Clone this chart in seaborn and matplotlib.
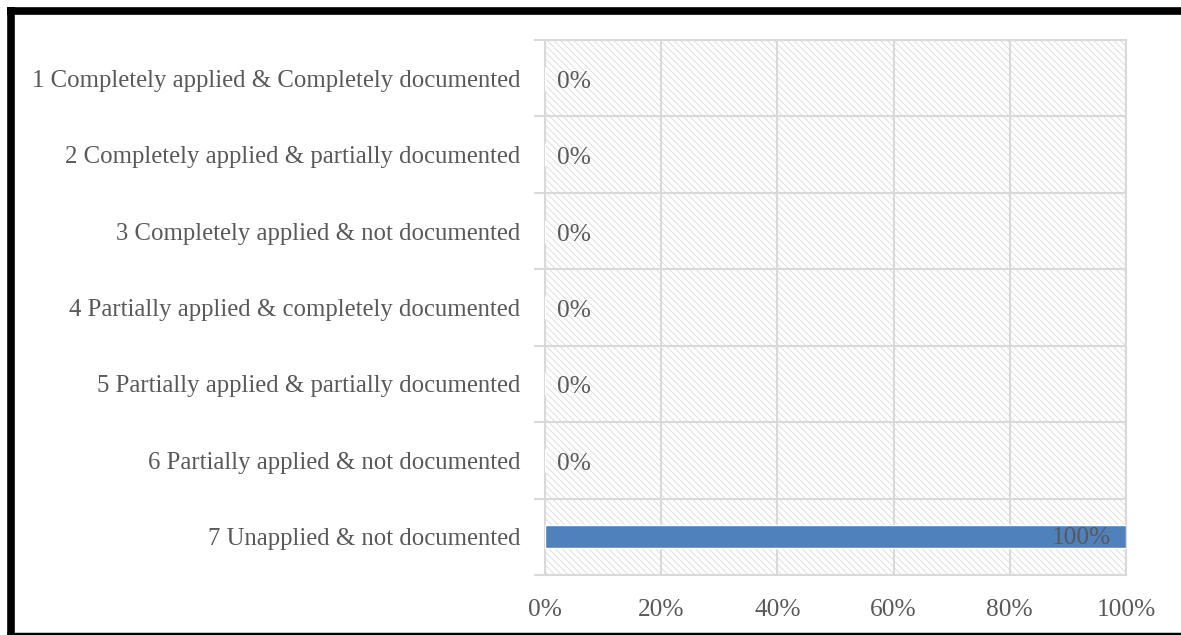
import numpy as np
import pandas as pd
import matplotlib
matplotlib.use("Agg")
import matplotlib.pyplot as plt
from matplotlib.patches import Rectangle
from matplotlib.lines import Line2D
import seaborn as sns

categories = [
    "1 Completely applied & Completely documented",
    "2 Completely applied & partially documented",
    "3 Completely applied & not documented",
    "4 Partially applied & completely documented",
    "5 Partially applied & partially documented",
    "6 Partially applied & not documented",
    "7 Unapplied & not documented",
]
values = [0, 0, 0, 0, 0, 0, 100]
xticks = [0, 20, 40, 60, 80, 100]

df = pd.DataFrame({"category": categories, "value": values})

sns.set_theme(style="white")
plt.rcParams["font.family"] = ["Liberation Serif", "DejaVu Serif"]
plt.rcParams["hatch.linewidth"] = 0.6
txt = "#595959"
grid = "#d9d9d9"

fig = plt.figure(figsize=(11.81, 6.35), dpi=100)
ax = fig.add_axes([545 / 1181, 1 - 575 / 635, (1126 - 545) / 1181, (575 - 40) / 635])

# hatched plot area background
ax.add_patch(Rectangle((0, 0), 1, 1, transform=ax.transAxes, facecolor="white",
                       edgecolor="#d9d9d9", hatch="\\\\\\\\\\", lw=0, zorder=0))

sns.barplot(data=df, x="value", y="category", orient="h", color="#4f81bd",
            width=0.3, saturation=1, ax=ax, zorder=3)

ax.set_xlim(0, 100)
ax.set_ylim(len(categories) - 0.5, -0.5)
ax.set_xticks(xticks)
ax.set_xticklabels([f"{t}%" for t in xticks])
ax.set_yticks(range(len(categories)))
ax.set_yticklabels(categories)
ax.set_yticks(np.arange(-0.5, len(categories)), minor=True)
ax.set_xlabel("")
ax.set_ylabel("")

ax.tick_params(axis="y", which="major", left=False, length=0, pad=18, labelsize=17.8, labelcolor=txt)
ax.tick_params(axis="y", which="minor", left=True, length=8, width=1.5, color=grid)
ax.tick_params(axis="x", which="major", length=0, pad=17, labelsize=18.3, labelcolor=txt)
ax.grid(True, axis="x", which="major", color=grid, lw=1.5, zorder=1)
ax.grid(True, axis="y", which="minor", color=grid, lw=1.5, zorder=1)
ax.grid(False, axis="y", which="major")
for s in ax.spines.values():
    s.set_color(grid)
    s.set_linewidth(1.5)

for i, v in enumerate(values):
    if v >= 100:
        ax.annotate(f"{v}%", (v, i), xytext=(-11, -1), textcoords="offset points",
                    ha="right", va="center", fontsize=18.3, color=txt, zorder=5)
    else:
        ax.annotate(f"{v}%", (v, i), xytext=(9, -2.5), textcoords="offset points",
                    ha="left", va="center", fontsize=18.3, color=txt, zorder=5)

# black frame around the chart
W, H = 1181, 635
fig.add_artist(Line2D([10.5 / W, 10.5 / W], [0, 1 - 7 / H], color="black", lw=5.5,
                      solid_capstyle="butt"))
fig.add_artist(Line2D([7 / W, 1], [1 - 10.5 / H, 1 - 10.5 / H], color="black", lw=5.5,
                      solid_capstyle="butt"))
fig.add_artist(Line2D([7 / W, 1], [1.5 / H, 1.5 / H], color="black", lw=2.5,
                      solid_capstyle="butt"))

fig.savefig("out.png", dpi=100)
